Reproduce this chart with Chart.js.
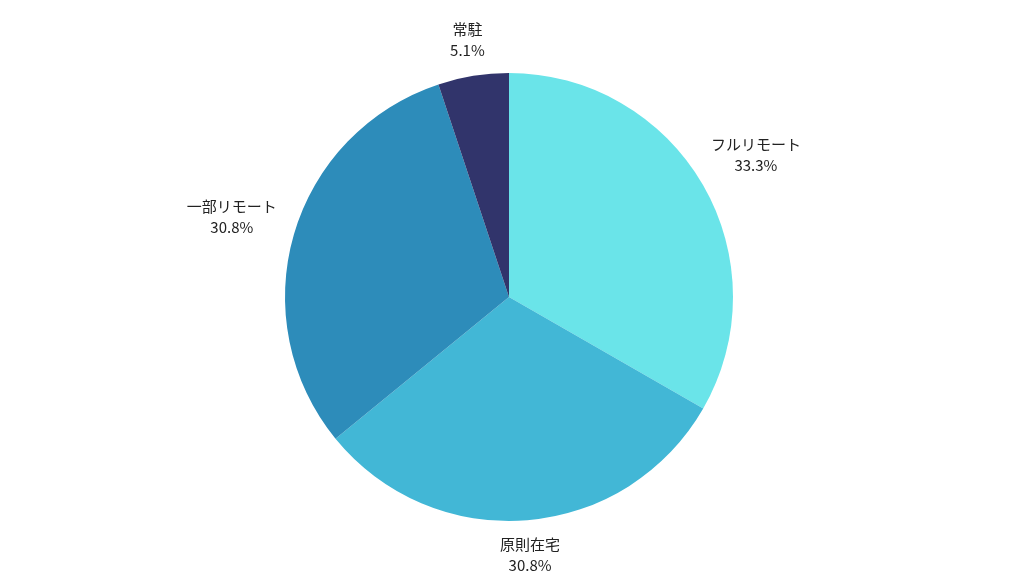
<!DOCTYPE html>
<html lang="ja">
<head>
  <meta charset="UTF-8">
  <title>勤務形態</title>
  <script src="https://cdn.jsdelivr.net/npm/chart.js"></script>
  <style>
    body { margin: 0; background: #fff; }
    .chart-container { width: 1024px; height: 576px; }
  </style>
</head>
<body>
  <div class="chart-container">
    <canvas id="pieChart"></canvas>
  </div>
  <script>
    const categories = ['フルリモート', '原則在宅', '一部リモート', '常駐'];
    const shares = [33.3, 30.8, 30.8, 5.1];
    const colors = ['#6ae4e9', '#42b7d6', '#2d8cba', '#31346b'];

    // outside labels: name + percent around each slice
    const outsideLabels = {
      id: 'outsideLabels',
      afterDraw(chart) {
        const ctx = chart.ctx;
        const meta = chart.getDatasetMeta(0);
        ctx.save();
        ctx.font = '15px "Noto Sans CJK JP", sans-serif';
        ctx.fillStyle = '#222';
        ctx.textAlign = 'center';
        ctx.textBaseline = 'middle';
        meta.data.forEach((arc, i) => {
          const mid = (arc.startAngle + arc.endAngle) / 2;
          const r = arc.outerRadius + 31 + 35 * Math.abs(Math.cos(mid));
          const x = arc.x + Math.cos(mid) * r;
          const y = arc.y + Math.sin(mid) * r;
          ctx.fillText(categories[i], x, y - 10);
          ctx.fillText(shares[i].toFixed(1) + '%', x, y + 11);
        });
        ctx.restore();
      }
    };

    new Chart(document.getElementById('pieChart'), {
      type: 'pie',
      data: {
        labels: categories,
        datasets: [{ data: shares, backgroundColor: colors, borderWidth: 0 }]
      },
      options: {
        responsive: true,
        maintainAspectRatio: false,
        animation: false,
        layout: { padding: { top: 73, bottom: 55, left: 0, right: 6 } },
        plugins: { legend: { display: false }, tooltip: { enabled: false } }
      },
      plugins: [outsideLabels]
    });
  </script>
</body>
</html>
